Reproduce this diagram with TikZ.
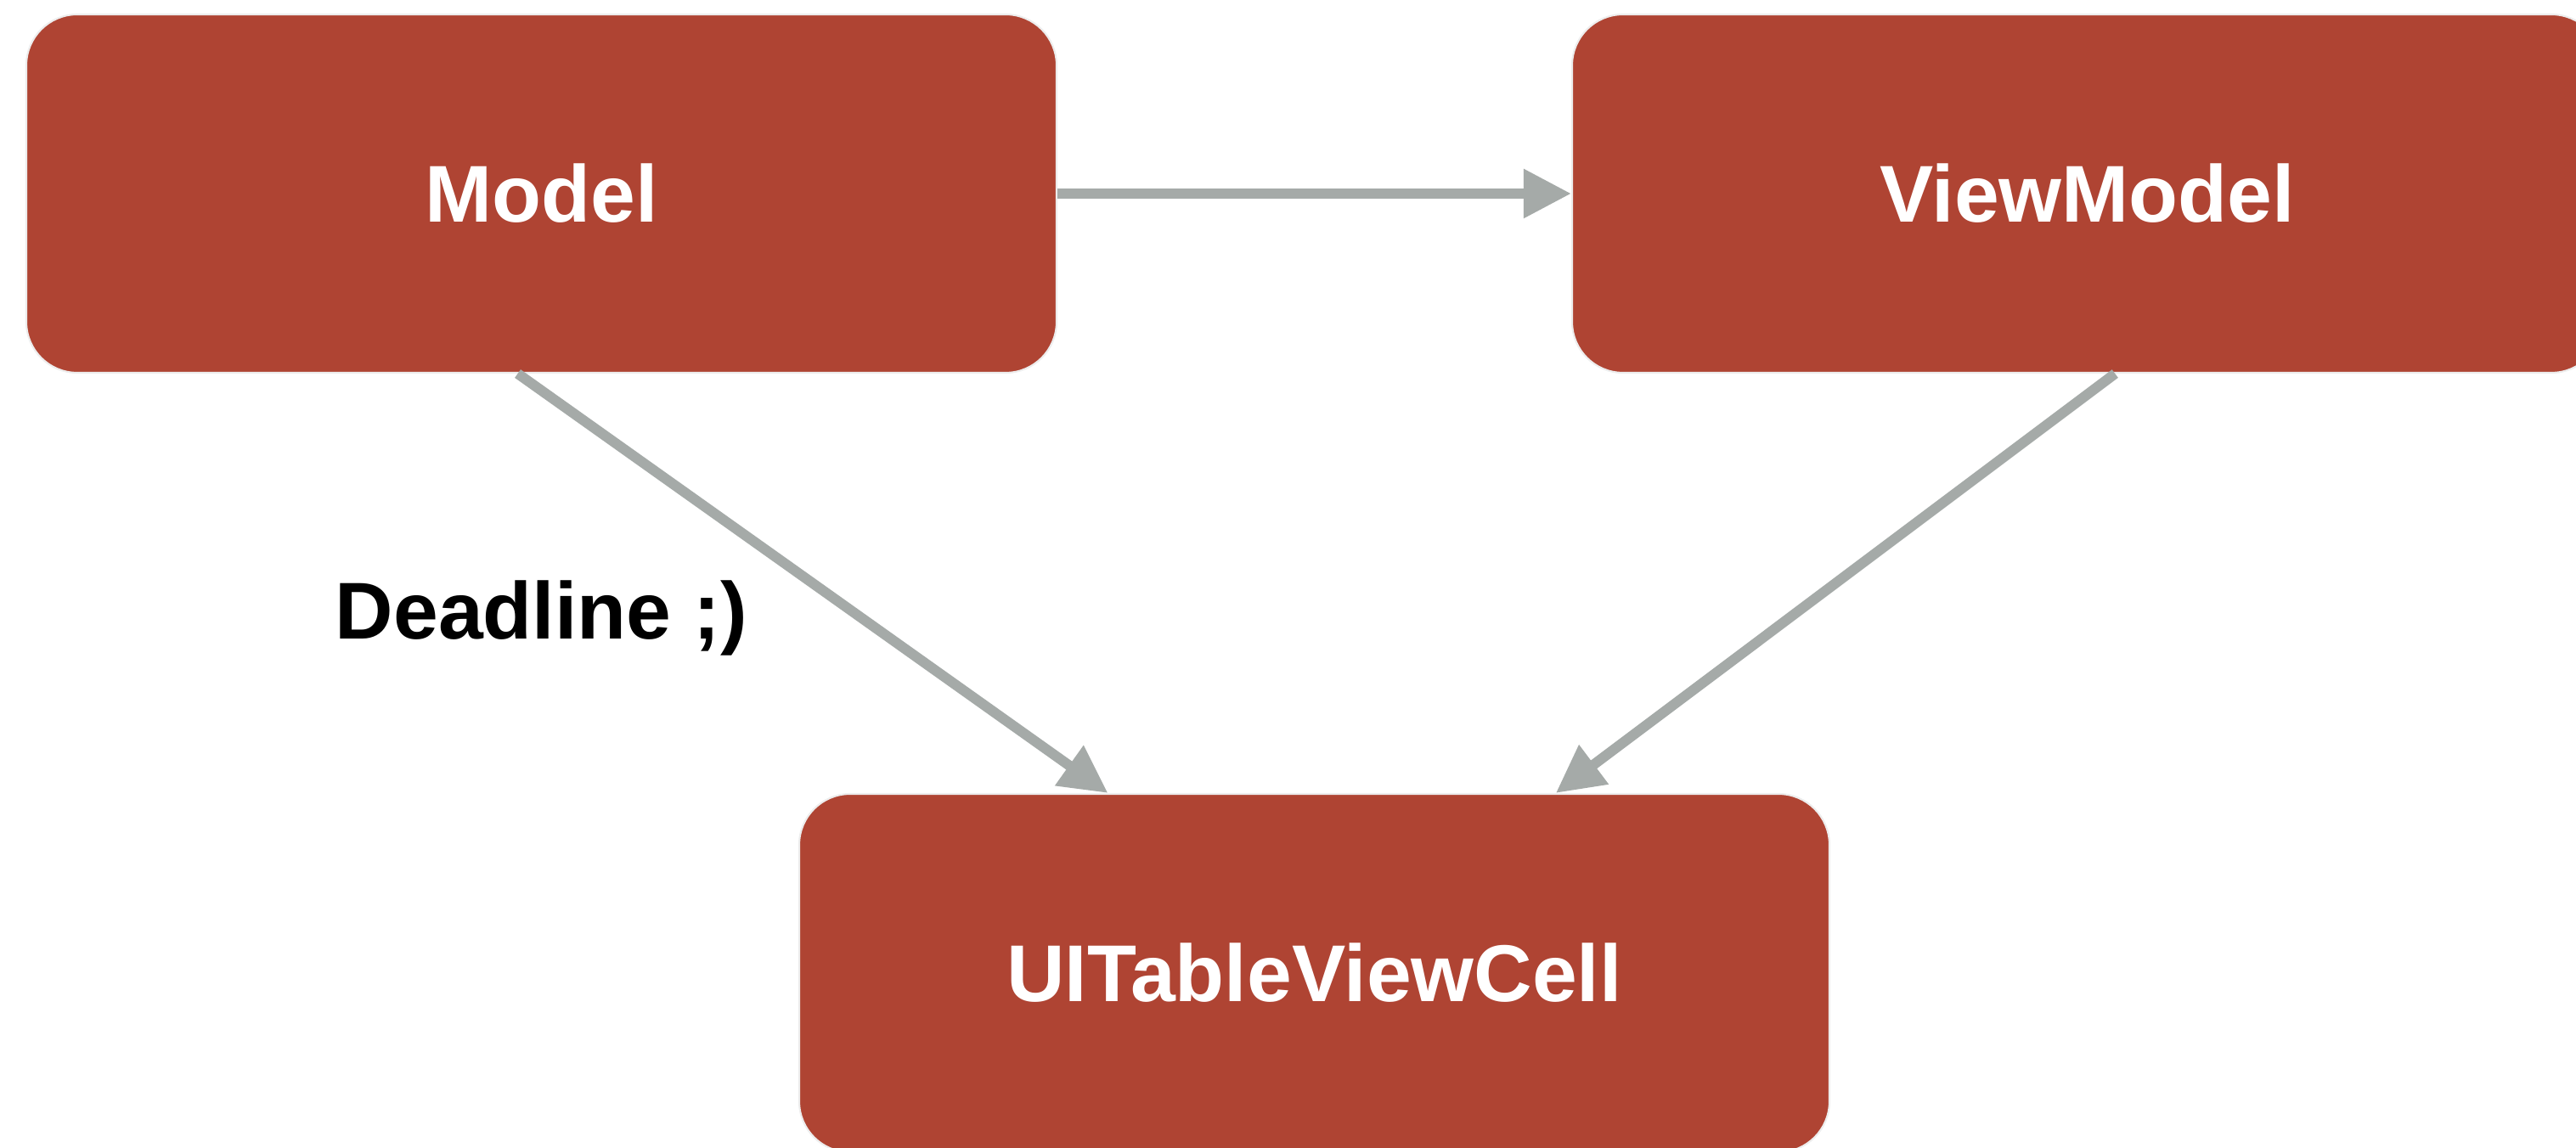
\documentclass[tikz,border=0pt]{standalone}
\usepackage{fontspec}
\setmainfont{Liberation Sans}
\usepackage{tikz}
\usetikzlibrary{arrows.meta,positioning,calc}
\definecolor{brickred}{RGB}{175,68,51}
\definecolor{arrowgray}{RGB}{165,170,168}

\begin{document}
\begin{tikzpicture}[
    box/.style={fill=brickred, draw=black!7, line width=0.6pt, rounded corners=0.6cm,
        minimum width=12.13cm, minimum height=4.22cm, inner sep=0pt,
        text=white, font=\fontsize{27}{32}\selectfont\bfseries},
    link/.style={draw=arrowgray, line width=0.12cm, -{Triangle[length=0.56cm, width=0.55cm]}}
]
    \useasboundingbox (0,0) rectangle (30.33,-13.52);
    % Boxes
    \node[box] (model) at (6.375,-2.28) {Model};
    \node[box] (viewmodel) at (24.575,-2.28) {ViewModel};
    \node[box] (cell) at (15.475,-11.46) {UITableViewCell};
    % Arrows
    \draw[link] (model.east) -- (viewmodel.west);
    \draw[link] ($(model.south west)!0.477!(model.south east)$) -- ($(cell.north west)!0.30!(cell.north east)$);
    \draw[link] ($(viewmodel.south west)!0.527!(viewmodel.south east)$) -- ($(cell.north west)!0.734!(cell.north east)$);
    \node[font=\fontsize{27}{32}\selectfont\bfseries, anchor=base] (deadline) at (6.375,-7.53) {Deadline ;)};
\end{tikzpicture}
\end{document}
